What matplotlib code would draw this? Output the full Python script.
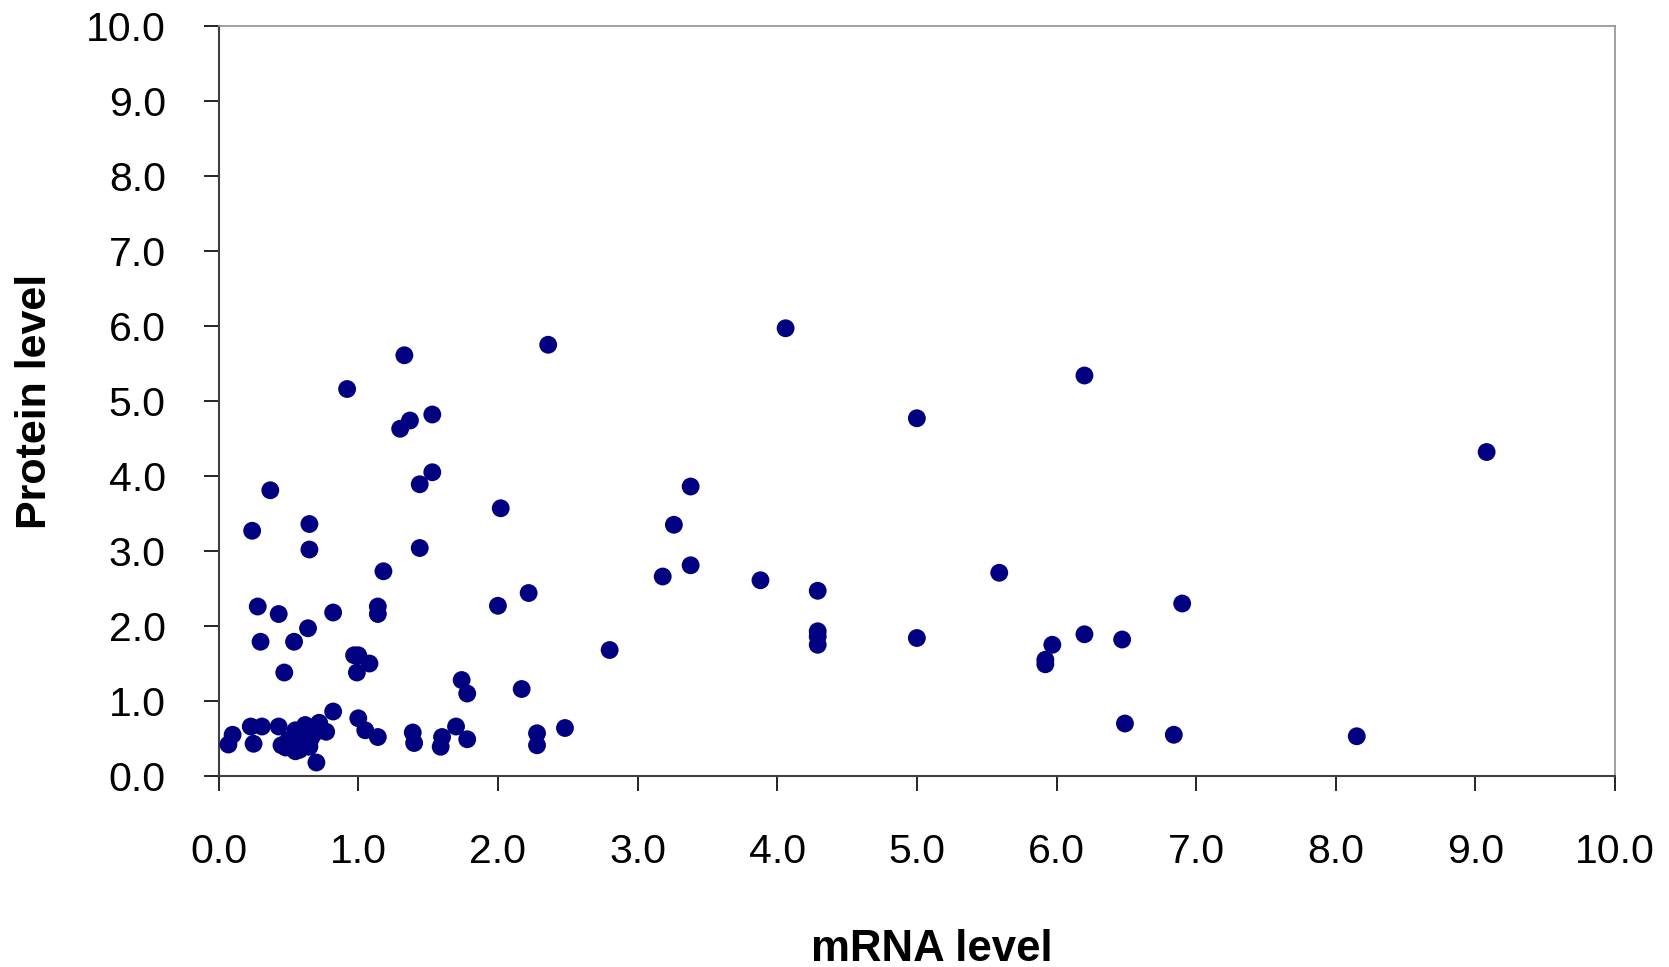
import matplotlib
matplotlib.use('Agg')
import matplotlib.pyplot as plt

plt.rcParams['font.family'] = ['Liberation Sans', 'DejaVu Sans']

# mRNA level vs protein level
mrna = [0.24, 0.37, 0.28, 0.43, 0.30, 0.47, 0.65, 0.65, 0.64, 0.54,
        0.82, 0.92, 1.33, 1.37, 1.30, 1.53, 1.53, 1.44, 1.44, 1.18,
        1.14, 1.14, 0.97, 1.00, 1.08, 0.99, 2.36, 2.02, 2.22, 2.00,
        1.74, 1.78, 2.17, 2.80, 3.38, 3.26, 3.38, 3.18, 3.88, 4.29,
        4.29, 4.29, 4.29, 4.06, 5.00, 5.00, 5.59, 5.92, 5.92, 5.97,
        6.20, 6.20, 6.47, 6.49, 6.90, 6.84, 8.15, 9.08,
        0.10, 0.07, 0.23, 0.31, 0.25, 0.43, 0.45, 0.55, 0.55, 0.62,
        0.72, 0.77, 0.65, 0.70, 0.50, 0.59, 0.68, 0.82, 1.00, 1.05,
        1.14, 1.39, 1.40, 1.60, 1.59, 1.70, 1.78, 2.28, 2.28, 2.48,
        0.48, 0.60, 0.66, 0.58]
protein = [3.27, 3.81, 2.26, 2.16, 1.79, 1.38, 3.36, 3.02, 1.97, 1.79,
           2.18, 5.16, 5.61, 4.74, 4.63, 4.82, 4.05, 3.89, 3.04, 2.73,
           2.26, 2.16, 1.61, 1.61, 1.50, 1.38, 5.75, 3.57, 2.44, 2.27,
           1.28, 1.10, 1.16, 1.68, 3.86, 3.35, 2.81, 2.66, 2.61, 2.47,
           1.93, 1.86, 1.75, 5.97, 4.77, 1.84, 2.71, 1.55, 1.49, 1.75,
           5.34, 1.89, 1.82, 0.70, 2.30, 0.55, 0.53, 4.32,
           0.55, 0.42, 0.66, 0.66, 0.43, 0.66, 0.41, 0.61, 0.33, 0.68,
           0.71, 0.59, 0.39, 0.18, 0.48, 0.52, 0.56, 0.86, 0.77, 0.61,
           0.52, 0.58, 0.44, 0.52, 0.39, 0.66, 0.49, 0.57, 0.41, 0.64,
           0.38, 0.45, 0.50, 0.35]

ticks = [0, 1, 2, 3, 4, 5, 6, 7, 8, 9, 10]
tick_labels = ['%.1f' % t for t in ticks]

fig = plt.figure(figsize=(16.69, 9.67), dpi=100)
ax = fig.add_axes([0.131, 0.1975, 0.8367, 0.7756])

ax.scatter(mrna, protein, s=165, color='#000080', edgecolors='none', zorder=3, clip_on=False)

ax.set_xlim(0, 10)
ax.set_ylim(0, 10)
ax.set_xticks(ticks)
ax.set_xticklabels(tick_labels)
ax.set_yticks(ticks)
ax.set_yticklabels(tick_labels)

ax.tick_params(axis='both', direction='out', length=11, width=1.2, labelsize=29.5, colors='black')
ax.tick_params(axis='x', pad=30)
ax.tick_params(axis='y', pad=27)

for side in ['left', 'bottom']:
    ax.spines[side].set_color('#404040')
    ax.spines[side].set_linewidth(1.5)
for side in ['top', 'right']:
    ax.spines[side].set_color('#909090')
    ax.spines[side].set_linewidth(1.2)

ax.set_xlabel('mRNA level', fontsize=31.5, fontweight='bold', labelpad=42, x=0.511)
ax.set_ylabel('Protein level', fontsize=31, fontweight='bold', labelpad=22)

fig.savefig('out.png', dpi=100, facecolor='white')
